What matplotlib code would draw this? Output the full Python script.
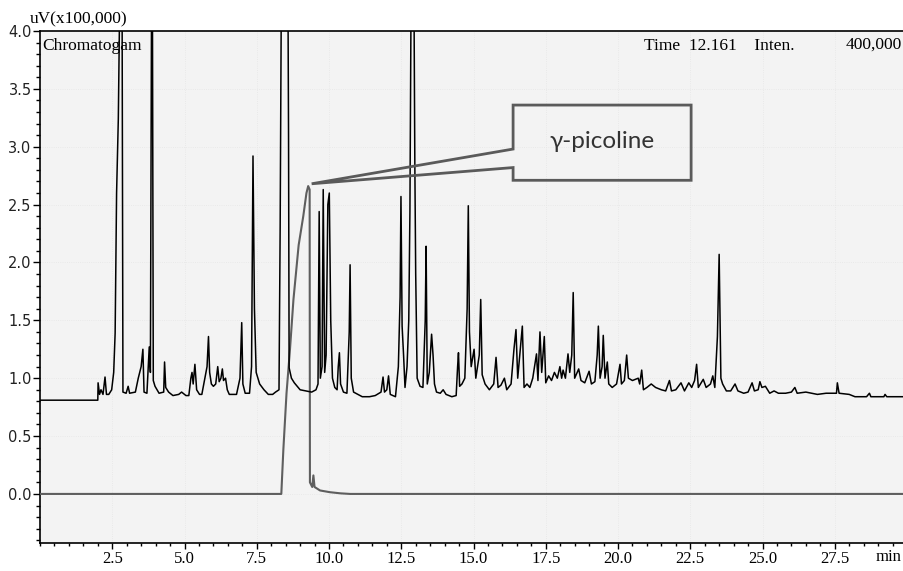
import numpy as np
import matplotlib.pyplot as plt
from matplotlib.patches import Polygon
from matplotlib.ticker import MultipleLocator

# black trace: sample chromatogram (time in min, signal in uV x100,000)
black_t = [0.00, 2.00, 2.01, 2.06, 2.11, 2.18, 2.25, 2.30, 2.38, 2.48, 2.55, 2.60, 2.65, 2.71, 2.76, 2.84, 2.87,
           2.98, 3.05, 3.10, 3.30, 3.40, 3.50, 3.56, 3.60, 3.70, 3.78, 3.82, 3.86, 3.89, 3.92, 3.98, 4.05, 4.12,
           4.28, 4.31, 4.35, 4.45, 4.60, 4.80, 4.90, 5.05, 5.15, 5.22, 5.26, 5.30, 5.36, 5.42, 5.52, 5.60, 5.78,
           5.83, 5.87, 5.93, 6.00, 6.08, 6.15, 6.20, 6.26, 6.31, 6.35, 6.42, 6.48, 6.55, 6.80, 6.92, 6.98, 7.02,
           7.10, 7.25, 7.32, 7.37, 7.42, 7.48, 7.60, 7.75, 7.90, 8.05, 8.15, 8.27, 8.31, 8.35, 8.58, 8.60, 8.62,
           8.70, 8.80, 8.90, 9.00, 9.20, 9.40, 9.55,
           9.62, 9.66, 9.70, 9.76, 9.80, 9.85, 9.90, 9.96, 10.01, 10.06, 10.12, 10.20, 10.28, 10.32, 10.36, 10.40,
           10.50, 10.62, 10.70, 10.73, 10.77, 10.85, 11.00, 11.15, 11.40, 11.60, 11.80, 11.87, 11.92, 12.00, 12.06,
           12.12, 12.30, 12.40, 12.46, 12.49, 12.53, 12.58, 12.63, 12.70, 12.76, 12.80, 12.84, 12.94, 12.97, 13.00,
           13.05, 13.15, 13.25, 13.33, 13.36, 13.40, 13.47, 13.55, 13.60, 13.65, 13.72, 13.85, 13.95, 14.05, 14.15,
           14.25, 14.40, 14.45, 14.48, 14.52, 14.60, 14.70, 14.78, 14.82, 14.86, 14.92, 15.02, 15.08, 15.20, 15.25,
           15.30, 15.40, 15.55, 15.70, 15.78, 15.85, 15.95, 16.07, 16.15, 16.30, 16.40, 16.47, 16.53, 16.60, 16.69,
           16.75, 16.85, 16.95, 17.05, 17.18, 17.23, 17.30, 17.36, 17.45, 17.50, 17.60, 17.70, 17.80, 17.90, 17.99,
           18.05, 18.10, 18.18, 18.27, 18.33, 18.40, 18.45, 18.50, 18.64, 18.72, 18.85, 19.00, 19.08, 19.20, 19.28,
           19.32, 19.38, 19.45, 19.49, 19.55, 19.63, 19.68, 19.80, 19.95, 20.07, 20.12, 20.22, 20.30, 20.36, 20.50,
           20.70, 20.75, 20.82, 20.88, 21.00, 21.15, 21.30, 21.50, 21.65, 21.78, 21.85, 22.00, 22.18, 22.30, 22.45,
           22.55, 22.65, 22.72, 22.78, 22.95, 23.05, 23.20, 23.28, 23.35, 23.44, 23.50, 23.56, 23.62, 23.75, 23.90,
           24.05, 24.15, 24.35, 24.50, 24.64, 24.72, 24.85, 24.91, 24.98, 25.10, 25.25, 25.40, 25.55, 25.80, 26.00,
           26.12, 26.20, 26.50, 26.90, 27.20, 27.45, 27.56, 27.59, 27.65, 28.00, 28.20, 28.60, 28.70, 28.75, 29.20,
           29.24, 29.30, 30.00]
black_v = [0.81, 0.81, 0.96, 0.86, 0.90, 0.86, 1.01, 0.86, 0.86, 0.90, 1.05, 1.39, 2.60, 3.24, 4.30, 4.30, 0.88,
           0.87, 0.93, 0.87, 0.88, 1.00, 1.10, 1.25, 0.88, 0.87, 1.27, 1.05, 4.30, 4.30, 0.98, 0.93, 0.90, 0.87,
           0.88, 1.14, 0.92, 0.88, 0.85, 0.86, 0.88, 0.85, 0.85, 1.00, 1.05, 0.95, 1.12, 0.90, 0.86, 0.86, 1.10,
           1.36, 1.05, 0.95, 0.93, 0.95, 1.10, 0.97, 1.00, 1.08, 0.98, 1.00, 0.90, 0.86, 0.86, 1.00, 1.48, 0.95,
           0.87, 0.87, 1.10, 2.92, 1.60, 1.05, 0.95, 0.90, 0.86, 0.86, 0.88, 0.90, 2.30, 4.30, 4.30, 3.10, 1.09,
           1.00, 0.96, 0.93, 0.90, 0.89, 0.88, 0.90,
           0.95, 2.44, 1.00, 1.10, 2.63, 1.05, 1.20, 2.50, 2.60, 1.50, 1.00, 0.92, 0.90, 1.10, 1.22, 0.95,
           0.88, 0.87, 1.40, 1.98, 1.00, 0.88, 0.86, 0.84, 0.84, 0.85, 0.88, 1.01, 0.88, 0.90, 1.02,
           0.86, 0.84, 1.10, 1.70, 2.57, 1.45, 1.20, 0.92, 1.10, 1.50, 2.44, 4.30, 4.30, 2.85, 1.90,
           1.00, 0.93, 0.92, 1.50, 2.14, 0.95, 1.05, 1.38, 1.20, 0.95, 0.88, 0.87, 0.90, 0.86, 0.85,
           0.84, 0.85, 1.10, 1.22, 0.93, 0.95, 1.00, 1.60, 2.49, 1.40, 1.10, 1.25, 1.00, 1.20, 1.68,
           1.03, 0.95, 0.90, 0.95, 1.18, 0.92, 0.94, 1.00, 0.90, 0.95, 1.25, 1.42, 1.00, 1.20, 1.45,
           0.92, 0.95, 0.92, 1.00, 1.21, 0.98, 1.40, 1.05, 1.36, 0.96, 1.02, 0.98, 1.05, 1.00, 1.10,
           1.00, 1.07, 1.00, 1.21, 1.05, 1.20, 1.74, 1.00, 1.08, 0.98, 0.96, 1.06, 0.95, 0.97, 1.20,
           1.45, 1.00, 1.10, 1.37, 1.00, 1.14, 0.95, 0.92, 0.95, 1.12, 0.95, 0.98, 1.20, 1.00, 0.98,
           1.00, 0.95, 1.07, 0.90, 0.92, 0.95, 0.92, 0.90, 0.89, 0.98, 0.89, 0.90, 0.96, 0.89, 0.96,
           0.92, 0.98, 1.12, 0.92, 0.99, 0.92, 0.95, 1.02, 0.92, 1.36, 2.07, 1.00, 0.95, 0.89, 0.89,
           0.95, 0.89, 0.87, 0.88, 0.96, 0.89, 0.90, 0.97, 0.92, 0.93, 0.87, 0.89, 0.87, 0.87, 0.88,
           0.92, 0.87, 0.88, 0.86, 0.87, 0.87, 0.87, 0.96, 0.87, 0.86, 0.84, 0.84, 0.87, 0.84, 0.84,
           0.86, 0.84, 0.84]

# grey trace: gamma-picoline standard
grey_t = [0.00, 8.35, 8.42, 8.53, 8.65, 8.77, 8.95, 9.11, 9.22, 9.28, 9.33, 9.34, 9.42, 9.46, 9.50, 9.69,
          10.03, 10.40, 10.73, 30.00]
grey_v = [0.00, 0.00, 0.38, 0.87, 1.25, 1.68, 2.15, 2.40, 2.60, 2.66, 2.63, 0.10, 0.06, 0.16, 0.06, 0.03,
          0.015, 0.005, 0.00, 0.00]

label = 'γ-picoline'

fig = plt.figure(figsize=(9.04, 5.71), dpi=100)
fig.patch.set_facecolor('white')
ax = fig.add_axes([40 / 904, 28 / 571, 867 / 904, 512 / 571])
ax.set_facecolor('#f3f3f3')

ax.plot(grey_t, grey_v, color='#5e5e5e', lw=1.5, zorder=3)
ax.plot(black_t, black_v, color='black', lw=1.1, zorder=4)

ax.set_xlim(0, 30)
ax.set_ylim(-0.424, 4.0)

ax.xaxis.set_minor_locator(MultipleLocator(0.5))
ax.yaxis.set_minor_locator(MultipleLocator(0.1))
ax.set_xticks([2.5, 5.0, 7.5, 10.0, 12.5, 15.0, 17.5, 20.0, 22.5, 25.0, 27.5])
ax.set_yticks([0.0, 0.5, 1.0, 1.5, 2.0, 2.5, 3.0, 3.5, 4.0])
ax.set_xticklabels([f'{v:.1f}' for v in ax.get_xticks()], family='Liberation Serif', fontsize=12)
ax.set_yticklabels([f'{v:.1f}' for v in ax.get_yticks()], family='DejaVu Sans', fontsize=10.5, color='#222222')
ax.tick_params(axis='x', which='major', direction='out', length=4, width=1, pad=2)
ax.tick_params(axis='x', which='minor', direction='out', length=2, width=1)
ax.tick_params(axis='y', which='major', direction='out', length=5, width=1, pad=1)
ax.tick_params(axis='y', which='minor', direction='out', length=3, width=1)
ax.grid(True, which='major', color='#e6e6e6', lw=0.6, ls=':')

for s in ['left', 'bottom', 'top']:
    ax.spines[s].set_linewidth(1.2)
ax.spines['right'].set_visible(False)

# header texts
fig.text(30 / 904, 1 - 19 / 571, 'uV(x100,000)', family='Liberation Serif', fontsize=12.5, va='center', ha='left')
ax.text(0.08, 3.87, 'Chromatogam', family='Liberation Serif', fontsize=12.5, va='center', ha='left')
ax.text(20.9, 3.87, 'Time  12.161    Inten.', family='Liberation Serif', fontsize=12.5, va='center', ha='left')
fig.text(902 / 904, 1 - 45 / 571, '400,000', family='Liberation Serif', fontsize=12.5, va='center', ha='right')
fig.text(876 / 904, 1 - 557 / 571, 'min', family='Liberation Serif', fontsize=12, va='center', ha='left')

# callout box pointing at the grey peak
i = int(np.argmax(grey_v))
tip = (grey_t[i] + 0.12, grey_v[i] + 0.02)
bx0, bx1, by0, by1 = 16.37, 22.53, 2.71, 3.36
callout = Polygon([(bx0, by1), (bx1, by1), (bx1, by0), (bx0, by0), (bx0, 2.82), tip, (bx0, 2.98)],
                  closed=True, fill=False, edgecolor='#5a5a5a', lw=2, zorder=5, joinstyle='miter')
ax.add_patch(callout)
ax.text((bx0 + bx1) / 2, (by0 + by1) / 2 + 0.01, label, family=['Lato', 'DejaVu Sans'], fontsize=17.5,
        color='#333333', ha='center', va='center', zorder=6)

fig.savefig('out.png', dpi=100)
